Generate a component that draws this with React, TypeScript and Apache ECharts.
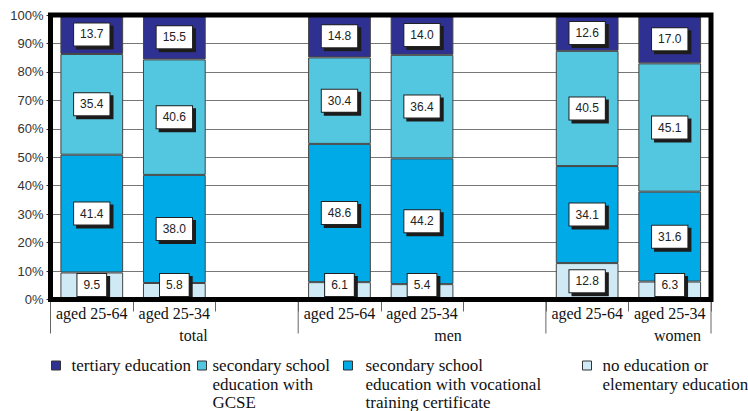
import React, { useEffect, useRef } from 'react';
import * as echarts from 'echarts';

const categories = ['aged 25-64', 'aged 25-34', '', 'aged 25-64', 'aged 25-34', '', 'aged 25-64', 'aged 25-34'];
const groupLabels = ['total', 'men', 'women'];
const seriesNames = [
  'no education or elementary education',
  'secondary school education with vocational training certificate',
  'secondary school education with GCSE',
  'tertiary education',
];
const legendLabels = [
  'no education or\nelementary education',
  'secondary school\neducation with vocational\ntraining certificate',
  'secondary school\neducation with\nGCSE',
  'tertiary education',
];
const noEducation = [9.5, 5.8, null, 6.1, 5.4, null, 12.8, 6.3];
const vocational = [41.4, 38.0, null, 48.6, 44.2, null, 34.1, 31.6];
const gcse = [35.4, 40.6, null, 30.4, 36.4, null, 40.5, 45.1];
const tertiary = [13.7, 15.5, null, 14.8, 14.0, null, 12.6, 17.0];
const seriesValues = [noEducation, vocational, gcse, tertiary];
const colors = ['#cfeaf5', '#00aae6', '#53c6e0', '#2e3192'];

const W = 748;
const H = 411;
const G = { left: 50.5, right: 37, top: 15, bottom: 111.5 };
const SERIF = 'Liberation Serif';
const SANS = 'Liberation Sans';

export default function App() {
  const ref = useRef<HTMLDivElement>(null);
  useEffect(() => {
    if (!ref.current) return;
    const chart = echarts.init(ref.current, null, { renderer: 'svg', width: W, height: H });
    const plotH = H - G.top - G.bottom;
    const pxPerUnit = plotH / 100;

    const series = seriesValues.map((vals, si) => ({
      name: seriesNames[si],
      type: 'bar',
      stack: 'all',
      barWidth: '76%',
      itemStyle: { color: colors[si], borderColor: '#444', borderWidth: 1 },
      label: {
        show: true,
        position: 'inside',
        formatter: (p: any) => Number(p.value).toFixed(1),
        fontFamily: SANS,
        fontSize: 12,
        lineHeight: 14,
        color: '#222',
        backgroundColor: '#fff',
        borderColor: '#222',
        borderWidth: 1,
        padding: [4, 6, 4, 6],
        shadowColor: '#1a1a1a',
        shadowOffsetX: 3,
        shadowOffsetY: 3,
        shadowBlur: 0,
      },
      data: vals.map((v) => {
        if (v == null) return '-';
        const half = (v * pxPerUnit) / 2;
        const off = si === 0 && half < 14.5 ? half - 14.5 : 0;
        return { value: v, label: { offset: [0, off] } };
      }),
    }));

    const legendOrder = [3, 2, 1, 0];
    const legendIconX = [51, 197, 343, 582];
    const legendPadLeft = [6, 1, 8, 6];
    const iconTop = 361;
    const lineH = 18.5;
    const itemH = 9;
    const legends = legendOrder.map((si, k) => {
      const nLines = legendLabels[si].split('\n').length;
      const padTop = (nLines - 1) * lineH;
      const boxH = nLines * lineH + padTop;
      const top = iconTop + itemH / 2 - boxH / 2;
      return {
        data: [seriesNames[si]],
        left: legendIconX[k],
        top,
        padding: 0,
        itemWidth: 9,
        itemHeight: itemH,
        icon: 'rect',
        selectedMode: false,
        itemStyle: { borderColor: '#333', borderWidth: 1 },
        formatter: () => legendLabels[si],
        textStyle: {
          fontFamily: SERIF,
          fontSize: 17,
          lineHeight: lineH,
          color: '#111',
          padding: [padTop, 0, 0, legendPadLeft[k]],
          rich: { x: { fontFamily: SERIF } },
        },
      };
    });

    chart.setOption({
      animation: false,
      backgroundColor: '#fff',
      grid: { ...G, containLabel: false },
      legend: legends,
      xAxis: {
        type: 'category',
        data: categories,
        axisLine: { show: false },
        axisTick: { show: true, interval: 0, length: 12, lineStyle: { color: '#666', width: 1 } },
        axisLabel: {
          interval: 0,
          margin: 6,
          fontFamily: SERIF,
          fontSize: 16,
          color: '#111',
        },
      },
      yAxis: {
        type: 'value',
        min: 0,
        max: 100,
        interval: 10,
        axisLine: { show: false },
        axisTick: { show: true, length: 4, lineStyle: { color: '#333' } },
        axisLabel: {
          formatter: '{value}%',
          fontFamily: SANS,
          fontSize: 13,
          color: '#333',
          margin: 7,
        },
        splitLine: { show: true, lineStyle: { color: '#777', width: 1 } },
      },
      series,
    });

    const x0 = chart.convertToPixel({ xAxisIndex: 0 }, 0) as number;
    const x1 = chart.convertToPixel({ xAxisIndex: 0 }, 1) as number;
    const slot = x1 - x0;
    const boundary = (i: number) => x0 - slot / 2 + i * slot;
    const yBottom = chart.convertToPixel({ yAxisIndex: 0 }, 0) as number;
    const yTop = chart.convertToPixel({ yAxisIndex: 0 }, 100) as number;
    const groupBoundaries = [0, 3, 6, 8];
    const groupLabelX = [193.5, 448, 677.5];

    const graphic: any[] = [
      {
        type: 'rect',
        z: 100,
        silent: true,
        shape: { x: boundary(0), y: yTop, width: boundary(8) - boundary(0), height: yBottom - yTop },
        style: { fill: 'none', stroke: '#000', lineWidth: 5 },
      },
      ...groupBoundaries.map((b) => ({
        type: 'line',
        z: 50,
        silent: true,
        shape: { x1: boundary(b), y1: yBottom, x2: boundary(b), y2: yBottom + 34 },
        style: { stroke: '#666', lineWidth: 1 },
      })),
      ...groupLabels.map((t, i) => ({
        type: 'text',
        z: 50,
        silent: true,
        x: groupLabelX[i],
        y: yBottom + 36,
        style: {
          text: t,
          fill: '#111',
          fontFamily: SERIF,
          fontSize: 16,
          align: 'center',
          verticalAlign: 'middle',
        },
      })),
    ];
    chart.setOption({ graphic });

    return () => chart.dispose();
  }, []);
  return <div ref={ref} style={{ position: 'fixed', left: 0, top: 0, width: W, height: H }} />;
}
